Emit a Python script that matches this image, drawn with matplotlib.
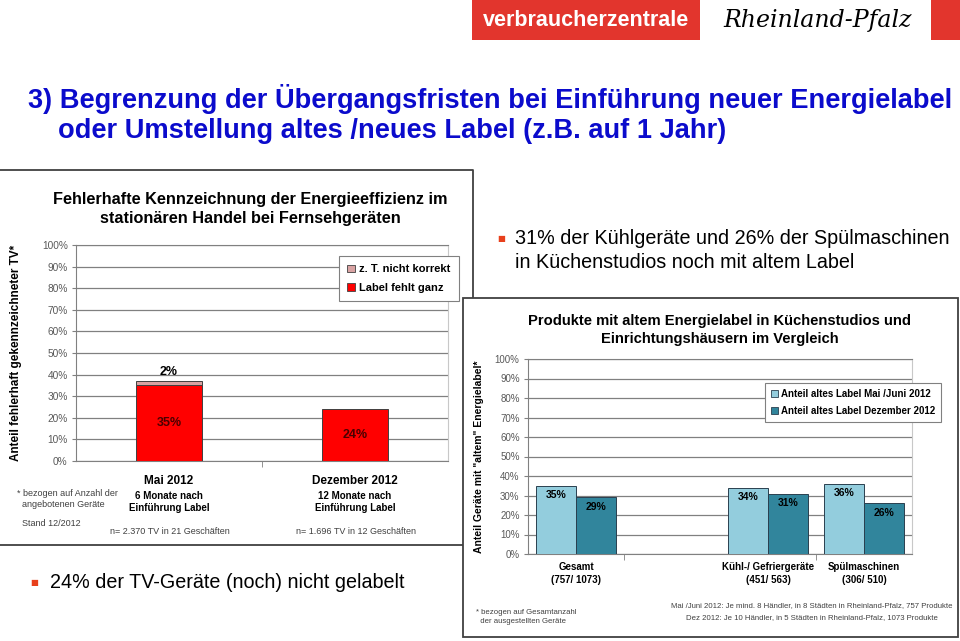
import matplotlib
matplotlib.use('Agg')
import numpy as np
import matplotlib.pyplot as plt
from matplotlib.patches import Rectangle, Patch

plt.rcParams['font.family'] = ['Liberation Sans', 'DejaVu Sans']

# Daten: TV (stationaerer Handel)
tv_kat = ['Mai 2012', 'Dezember 2012']
tv_sub = ['6 Monate nach\nEinführung Label', '12 Monate nach\nEinführung Label']
tv_n = ['n= 2.370 TV in 21 Geschäften', 'n= 1.696 TV in 12 Geschäften']
tv_fehlt = [35, 24]
tv_nicht_korrekt = [2, 0]

# Daten: Kuechenstudios
kue_kat = ['Gesamt\n(757/ 1073)', '', 'Kühl-/ Gefriergeräte\n(451/ 563)', 'Spülmaschinen\n(306/ 510)']
kue_mai = [35, np.nan, 34, 36]
kue_dez = [29, np.nan, 31, 26]

W, H = 960, 641
fig = plt.figure(figsize=(W / 100, H / 100), dpi=100)
fig.patch.set_facecolor('white')


def px_axes(x0, y0, x1, y1):
    return fig.add_axes([x0 / W, 1 - y1 / H, (x1 - x0) / W, (y1 - y0) / H])


# Hintergrund in Pixelkoordinaten
bg = fig.add_axes([0, 0, 1, 1])
bg.set_xlim(0, W)
bg.set_ylim(H, 0)
bg.axis('off')
bg.set_zorder(0)

# Logos
bg.add_patch(Rectangle((472, 0), 228, 40, color='#E2352D', lw=0))
bg.text(586, 21, 'verbraucherzentrale', color='white', fontsize=15.5, fontweight='bold',
        ha='center', va='center')
bg.text(818, 21, 'Rheinland-Pfalz', color='black', fontsize=17, style='italic',
        family=['DejaVu Serif'], ha='center', va='center')
bg.add_patch(Rectangle((931, 0), 29, 40, color='#E2352D', lw=0))

# Folientitel
blau = '#0B0BCC'
bg.text(28, 99, '3) Begrenzung der Übergangsfristen bei Einführung neuer Energielabel',
        color=blau, fontsize=19.6, fontweight='bold', va='center')
bg.text(58, 131, 'oder Umstellung altes /neues Label (z.B. auf 1 Jahr)',
        color=blau, fontsize=19.6, fontweight='bold', va='center')

# Rahmen links
bg.plot([0, 473, 473], [170, 170, 320], color='#404040', lw=1.3)
bg.plot([0, 473], [545, 545], color='#404040', lw=1.3)
# Rahmen rechts (ueberdeckt den linken)
bg.add_patch(Rectangle((463, 298), 495, 339, facecolor='white', edgecolor='#404040', lw=1.3, zorder=3))

# Stichpunkte
bg.text(497, 238, '■', color='#E8401C', fontsize=6, va='center', family=['DejaVu Sans'])
bg.text(515, 238, '31% der Kühlgeräte und 26% der Spülmaschinen', fontsize=14.2, va='center')
bg.text(515, 262, 'in Küchenstudios noch mit altem Label', fontsize=14.2, va='center')
bg.text(30, 583, '■', color='#E8401C', fontsize=6, va='center', family=['DejaVu Sans'])
bg.text(50, 583, '24% der TV-Geräte (noch) nicht gelabelt', fontsize=14.2, va='center')

# ---- linkes Diagramm ----
bg.text(250, 209, 'Fehlerhafte Kennzeichnung der Energieeffizienz im\nstationären Handel bei Fernsehgeräten',
        fontsize=11.7, fontweight='bold', ha='center', va='center', linespacing=1.3)

ax1 = px_axes(76, 245, 448, 461)
ax1.set_zorder(2)
x = np.arange(len(tv_kat))
bw = 0.355
ax1.bar(x, tv_fehlt, width=bw, color='#FF0000', edgecolor='#404040', lw=0.7, zorder=3)
nk = np.array(tv_nicht_korrekt)
m = nk > 0
ax1.bar(x[m], nk[m], bottom=np.array(tv_fehlt)[m], width=bw, color='#D9A3A3',
        edgecolor='#404040', lw=0.7, zorder=3)
for i in range(len(x)):
    ax1.text(x[i], tv_fehlt[i] / 2, f'{tv_fehlt[i]}%', ha='center', va='center',
             fontsize=9, fontweight='bold', color='#4a0000', zorder=4)
    if nk[i] > 0:
        ax1.text(x[i], tv_fehlt[i] + nk[i] + 1.2, f'{nk[i]}%', ha='center', va='bottom',
                 fontsize=9, fontweight='bold', color='black', zorder=4)

ax1.set_xlim(-0.5, 1.5)
ax1.set_ylim(0, 100)
ax1.set_yticks(range(0, 101, 10))
ax1.set_yticklabels([f'{v}%' for v in range(0, 101, 10)])
ax1.set_xticks(x)
ax1.set_xticklabels(tv_kat, fontsize=8.5, fontweight='bold')
ax1.set_xticks([0.5], minor=True)
ax1.tick_params(axis='x', which='major', length=0, pad=10)
ax1.tick_params(axis='x', which='minor', length=4, color='#808080')
ax1.tick_params(axis='y', length=3, color='#808080', labelsize=7.3, labelcolor='#595959', pad=3)
ax1.yaxis.grid(True, color='#808080', lw=0.9)
ax1.set_axisbelow(True)
for s in ['left', 'bottom', 'top']:
    ax1.spines[s].set_color('#808080')
ax1.spines['right'].set_color('#c8c8c8')
ax1.set_ylabel('Anteil fehlerhaft gekennzeichneter TV*', fontsize=8.5, fontweight='bold')
ax1.yaxis.set_label_coords((22 - 76) / 372, 0.5)
h1 = [Patch(facecolor='#D9A3A3', edgecolor='#404040', lw=0.6, label='z. T. nicht korrekt'),
      Patch(facecolor='#FF0000', edgecolor='#404040', lw=0.6, label='Label fehlt ganz')]
leg1 = ax1.legend(handles=h1, loc='upper right', bbox_to_anchor=((459 - 76) / 372, (461 - 256) / 216),
                  borderaxespad=0, fancybox=False, edgecolor='#808080', framealpha=1,
                  prop={'size': 8, 'weight': 'bold'}, handlelength=0.7, handleheight=0.7,
                  handletextpad=0.4, labelspacing=0.75, borderpad=0.75)
leg1.get_frame().set_linewidth(0.8)

for i, xc in enumerate([169, 355]):
    bg.text(xc, 502, tv_sub[i], fontsize=7, fontweight='bold', ha='center', va='center', linespacing=1.3)
    bg.text(xc + 1, 531, tv_n[i], fontsize=6.5, color='#404040', ha='center', va='center')
bg.text(17, 499, '* bezogen auf Anzahl der\n  angebotenen Geräte', fontsize=6.5, color='#404040',
        va='center', linespacing=1.3)
bg.text(22, 524, 'Stand 12/2012', fontsize=6.5, color='#404040', va='center')

# ---- rechtes Diagramm ----
bg.text(720, 330, 'Produkte mit altem Energielabel in Küchenstudios und\nEinrichtungshäusern im Vergleich',
        fontsize=10.6, fontweight='bold', ha='center', va='center', linespacing=1.3, zorder=4)

ax2 = px_axes(528, 359, 912, 554)
ax2.set_zorder(2)
x2 = np.arange(len(kue_kat))
mai = np.array(kue_mai, dtype=float)
dez = np.array(kue_dez, dtype=float)
m2 = ~np.isnan(mai)
bw2 = 0.4166
ax2.bar(x2[m2] - bw2 / 2, mai[m2], width=bw2, color='#93CDDD', edgecolor='#2a3f4f', lw=0.7, zorder=3)
ax2.bar(x2[m2] + bw2 / 2, dez[m2], width=bw2, color='#31859C', edgecolor='#2a3f4f', lw=0.7, zorder=3)
for i in x2[m2]:
    ax2.text(i - bw2 / 2, mai[i] - 4.8, f'{mai[i]:.0f}%', ha='center', va='center',
             fontsize=7.5, fontweight='bold', zorder=4)
    ax2.text(i + bw2 / 2, dez[i] - 4.8, f'{dez[i]:.0f}%', ha='center', va='center',
             fontsize=7.5, fontweight='bold', zorder=4)

ax2.set_xlim(-0.5, 3.5)
ax2.set_ylim(0, 100)
ax2.set_yticks(range(0, 101, 10))
ax2.set_yticklabels([f'{v}%' for v in range(0, 101, 10)])
ax2.set_xticks(x2)
ax2.set_xticklabels(kue_kat, fontsize=7, fontweight='bold', linespacing=1.35)
ax2.set_xticks([0.5, 2.5], minor=True)
ax2.tick_params(axis='x', which='major', length=0, pad=6)
ax2.tick_params(axis='x', which='minor', length=4, color='#808080')
ax2.tick_params(axis='y', length=3, color='#808080', labelsize=7, labelcolor='#595959', pad=3)
ax2.yaxis.grid(True, color='#808080', lw=0.9)
ax2.set_axisbelow(True)
for s in ['left', 'bottom', 'top']:
    ax2.spines[s].set_color('#808080')
ax2.spines['right'].set_color('#c8c8c8')
ax2.set_ylabel('Anteil Geräte mit "altem" Energielabel*', fontsize=7.5, fontweight='bold')
ax2.yaxis.set_label_coords((484 - 528) / 384, 0.5)
h2 = [Patch(facecolor='#93CDDD', edgecolor='#2a3f4f', lw=0.6, label='Anteil altes Label Mai /Juni 2012'),
      Patch(facecolor='#31859C', edgecolor='#2a3f4f', lw=0.6, label='Anteil altes Label Dezember 2012')]
leg2 = ax2.legend(handles=h2, loc='upper right', bbox_to_anchor=((941 - 528) / 384, (554 - 383) / 195),
                  borderaxespad=0, fancybox=False, edgecolor='#808080', framealpha=1,
                  prop={'size': 7, 'weight': 'bold'}, handlelength=0.7, handleheight=0.7,
                  handletextpad=0.3, labelspacing=0.75, borderpad=0.6)
leg2.get_frame().set_linewidth(0.8)

bg.text(476, 617, '* bezogen auf Gesamtanzahl\n  der ausgestellten Geräte', fontsize=5.6,
        color='#404040', va='center', linespacing=1.3, zorder=4)
bg.text(812, 606, 'Mai /Juni 2012: Je mind. 8 Händler, in 8 Städten in Rheinland-Pfalz, 757 Produkte',
        fontsize=5.6, color='#404040', ha='center', va='center', zorder=4)
bg.text(812, 618, 'Dez 2012: Je 10 Händler, in 5 Städten in Rheinland-Pfalz, 1073 Produkte',
        fontsize=5.6, color='#404040', ha='center', va='center', zorder=4)

fig.savefig('out.png', dpi=100, facecolor='white')
